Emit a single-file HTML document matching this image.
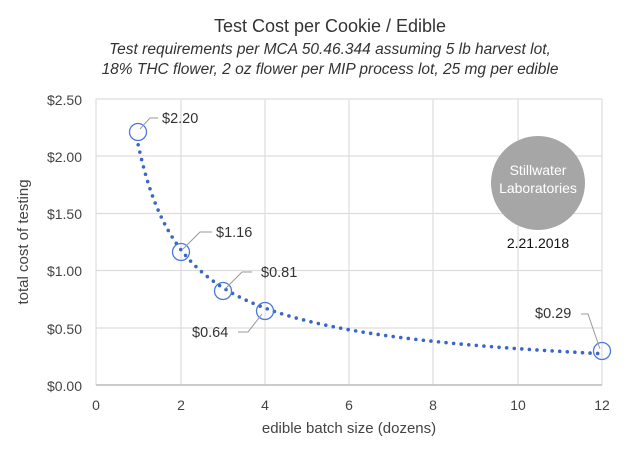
<!DOCTYPE html>
<html><head><style>
body{margin:0;background:#fff;}
svg text{font-family:"Liberation Sans",sans-serif;}
</style></head><body>
<svg id="s" width="632" height="457" xmlns="http://www.w3.org/2000/svg">
<rect width="632" height="457" fill="#fff"/>
<text x="330" y="32" text-anchor="middle" font-size="18" fill="#333">Test Cost per Cookie / Edible</text>
<text x="330" y="54" text-anchor="middle" font-size="15.5" font-style="italic" fill="#333">Test requirements per MCA 50.46.344 assuming 5 lb harvest lot,</text>
<text x="330" y="74" text-anchor="middle" font-size="15.5" font-style="italic" fill="#333">18% THC flower, 2 oz flower per MIP process lot, 25 mg per edible</text>
<g stroke="#ddd" stroke-width="1.2">
<line x1="96" y1="99" x2="602" y2="99"/><line x1="96" y1="156" x2="602" y2="156"/><line x1="96" y1="213.5" x2="602" y2="213.5"/><line x1="96" y1="270.5" x2="602" y2="270.5"/><line x1="96" y1="328" x2="602" y2="328"/>
<line x1="96" y1="99" x2="96" y2="385"/><line x1="181" y1="99" x2="181" y2="385"/><line x1="265" y1="99" x2="265" y2="385"/><line x1="349" y1="99" x2="349" y2="385"/><line x1="433" y1="99" x2="433" y2="385"/><line x1="518" y1="99" x2="518" y2="385"/><line x1="602" y1="99" x2="602" y2="385"/>
</g>
<line x1="96" y1="385" x2="602" y2="385" stroke="#bbb" stroke-width="1.5"/>
<g font-size="14" fill="#444" text-anchor="end">
<text x="82" y="105">$2.50</text><text x="82" y="162">$2.00</text><text x="82" y="219">$1.50</text><text x="82" y="276">$1.00</text><text x="82" y="334">$0.50</text><text x="82" y="391">$0.00</text>
</g>
<g font-size="14" fill="#444" text-anchor="middle">
<text x="96" y="410">0</text><text x="181" y="410">2</text><text x="265" y="410">4</text><text x="349" y="410">6</text><text x="433" y="410">8</text><text x="518" y="410">10</text><text x="602" y="410">12</text>
</g>
<text x="349" y="433" text-anchor="middle" font-size="15" fill="#444">edible batch size (dozens)</text>
<text transform="translate(28,242) rotate(-90)" text-anchor="middle" font-size="15" fill="#444">total cost of testing</text>
<path id="curve" fill="none" stroke="#3a66c8" stroke-width="3.6" stroke-linecap="round" stroke-dasharray="0 7.6"/>
<g fill="none" stroke="#4a7ae0" stroke-width="1.3">
<circle cx="138" cy="132" r="8.5"/><circle cx="181" cy="252" r="8.5"/><circle cx="223" cy="291" r="8.5"/><circle cx="265" cy="311" r="8.5"/><circle cx="602" cy="351" r="8.5"/>
</g>
<g stroke="#999" stroke-width="1" fill="none">
<polyline points="140,129 150,118 158,118"/>
<polyline points="183,249 200,232 212,232"/>
<polyline points="225,289 242,272 252,272"/>
<polyline points="262,314 248,332 238,332"/>
<polyline points="600,349 588,314 581,314"/>
</g>
<g font-size="14.5" fill="#333">
<text x="162" y="123">$2.20</text><text x="216" y="237">$1.16</text><text x="261" y="277">$0.81</text><text x="192" y="337">$0.64</text><text x="535" y="318">$0.29</text>
</g>
<circle cx="538" cy="183" r="47" fill="#a6a6a6"/>
<text x="538" y="175" text-anchor="middle" font-size="14" fill="#fff">Stillwater</text>
<text x="538" y="193" text-anchor="middle" font-size="14" fill="#fff">Laboratories</text>
<text x="538" y="248" text-anchor="middle" font-size="14" fill="#111">2.21.2018</text>
<script>
var d="";for(var i=0;i<=220;i++){var x=1+11*i/220;var v=2.1*Math.pow(x,-0.82);var px=96+x*42.17,py=385-v*114.4;d+=(i?"L":"M")+px.toFixed(2)+","+py.toFixed(2);}
document.getElementById("curve").setAttribute("d",d);
</script>
</svg>
</body></html>
